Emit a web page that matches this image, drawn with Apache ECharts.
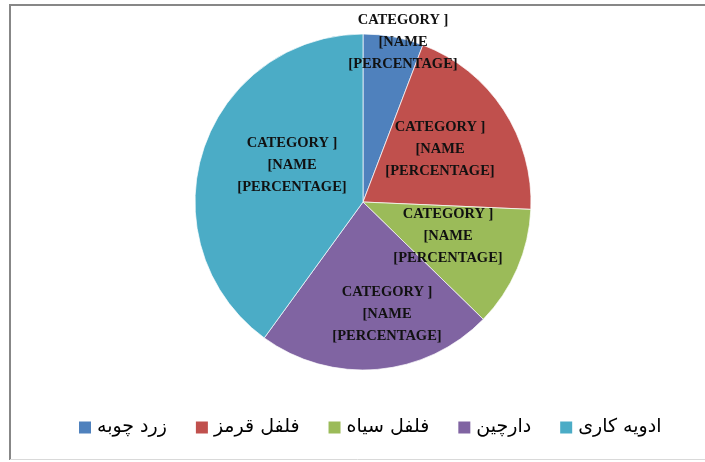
<!DOCTYPE html>
<html><head><meta charset="utf-8">
<script src="https://cdn.jsdelivr.net/npm/echarts@6/dist/echarts.min.js"></script>
<style>html,body{margin:0;padding:0;background:#fff}#c{width:705px;height:462px}</style>
</head><body><div id="c"></div>
<script>
const categories = ['زرد چوبه', 'فلفل قرمز', 'فلفل سیاه', 'دارچین', 'ادویه کاری'];
const values = [5.8, 19.9, 11.6, 22.7, 40.0];
const colors = ['#4F81BD', '#C0504D', '#9BBB59', '#8064A2', '#4BACC6'];
const labelText = 'CATEGORY ]\n[NAME\n[PERCENTAGE]';

const chart = echarts.init(document.getElementById('c'), null, {renderer: 'canvas'});
chart.setOption({
  animation: false,
  color: colors,
  graphic: [
    {type: 'line', shape: {x1: 10, y1: 5, x2: 705, y2: 5}, style: {stroke: '#878787', lineWidth: 2}},
    {type: 'line', shape: {x1: 10, y1: 4, x2: 10, y2: 460}, style: {stroke: '#878787', lineWidth: 2}},
    {type: 'line', shape: {x1: 10, y1: 459.5, x2: 705, y2: 459.5}, style: {stroke: '#d9d9d9', lineWidth: 1}}
  ],
  legend: {
    top: 413,
    left: 72,
    itemWidth: 14,
    itemHeight: 14,
    itemGap: 27,
    icon: 'rect',
    textStyle: {fontFamily: 'DejaVu Sans', fontSize: 19, color: '#000'},
    data: categories
  },
  series: [{
    type: 'pie',
    center: [363, 202],
    radius: 168,
    startAngle: 90,
    clockwise: true,
    label: {
      show: true,
      position: 'inside',
      formatter: labelText,
      fontFamily: 'Liberation Serif',
      fontWeight: 'bold',
      fontSize: 14.5,
      lineHeight: 22,
      color: '#111',
      align: 'center'
    },
    labelLine: {show: false},
    labelLayout: function (p) {
      if (p.dataIndex === 0) return {x: 403, y: 42, align: 'center', verticalAlign: 'middle'};
      if (p.dataIndex === 1) return {x: 440, y: 149, align: 'center', verticalAlign: 'middle'};
      if (p.dataIndex === 2) return {x: 448, y: 236, align: 'center', verticalAlign: 'middle'};
      if (p.dataIndex === 3) return {x: 387, y: 314, align: 'center', verticalAlign: 'middle'};
      if (p.dataIndex === 4) return {x: 292, y: 165, align: 'center', verticalAlign: 'middle'};
    },
    itemStyle: {borderColor: '#ffffff', borderWidth: 0.7},
    emphasis: {disabled: true},
    data: categories.map((n, i) => ({name: n, value: values[i]}))
  }]
});
</script></body></html>
